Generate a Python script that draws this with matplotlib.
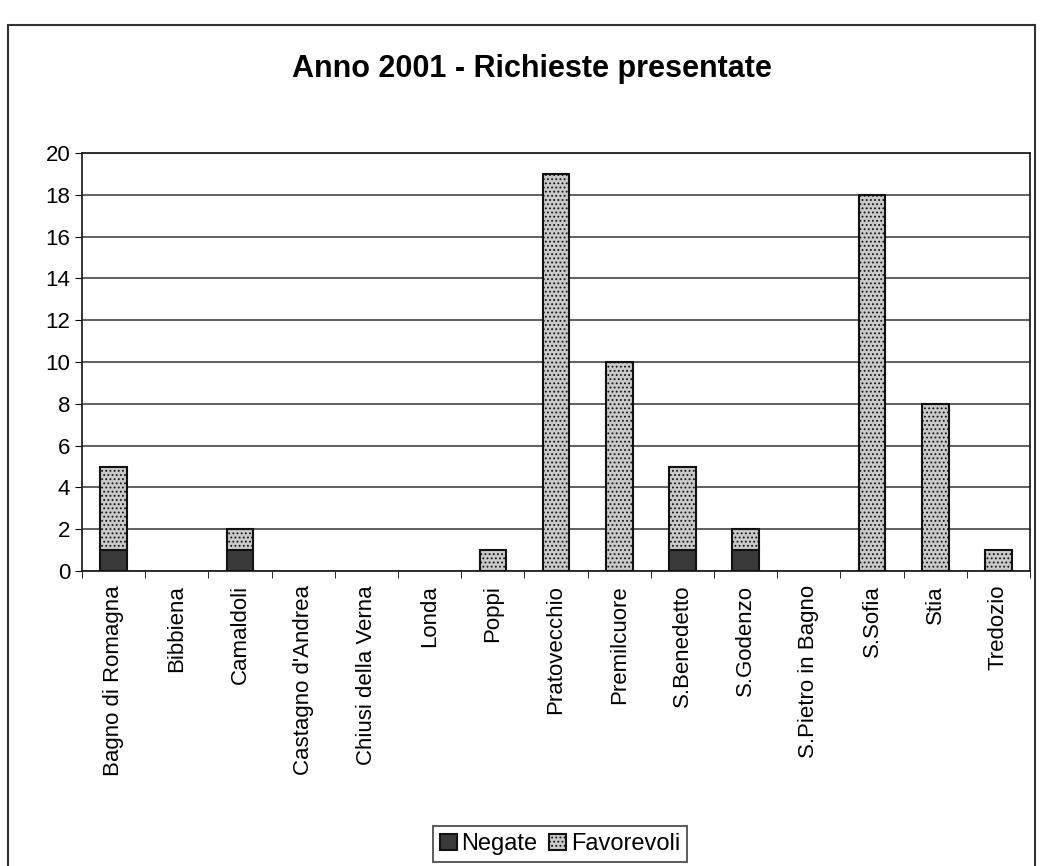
import numpy as np
import matplotlib
matplotlib.use('Agg')
from matplotlib import pyplot as plt
from matplotlib.patches import Rectangle

comuni = ['Bagno di Romagna', 'Bibbiena', 'Camaldoli', "Castagno d'Andrea",
          'Chiusi della Verna', 'Londa', 'Poppi', 'Pratovecchio', 'Premilcuore',
          'S.Benedetto', 'S.Godenzo', 'S.Pietro in Bagno', 'S.Sofia', 'Stia', 'Tredozio']
negate = [1, 0, 1, 0, 0, 0, 0, 0, 0, 1, 1, 0, 0, 0, 0]
favorevoli = [4, 0, 1, 0, 0, 0, 1, 19, 10, 4, 1, 0, 18, 8, 1]
y_ticks = [0, 2, 4, 6, 8, 10, 12, 14, 16, 18, 20]

plt.rcParams['font.family'] = ['Liberation Sans', 'DejaVu Sans']
plt.rcParams['hatch.color'] = '#777777'
plt.rcParams['hatch.linewidth'] = 0.8

fig = plt.figure(figsize=(10.43, 8.66), dpi=100)
fig.patches.append(Rectangle((0.008, -0.02), 0.984, 0.991, transform=fig.transFigure,
                             fill=False, edgecolor='#333333', linewidth=1.5))

ax = fig.add_axes([0.0786, 0.3406, 0.909, 0.4827])
x = np.arange(len(comuni))
# no outline for empty segments
lw_neg = [1.5 if v > 0 else 0 for v in negate]
lw_fav = [1.5 if v > 0 else 0 for v in favorevoli]
ax.bar(x, negate, width=0.42, color='#3a3a3a', edgecolor='#111111', linewidth=lw_neg,
       label='Negate', zorder=3)
ax.bar(x, favorevoli, width=0.42, bottom=negate, color='#c9c9c9', edgecolor='#111111',
       linewidth=lw_fav, hatch='....', label='Favorevoli', zorder=3)

ax.set_xlim(-0.5, len(comuni) - 0.5)
ax.set_ylim(0, 20)
ax.set_yticks(y_ticks)
ax.yaxis.grid(True, color='#444444', linewidth=1.2, zorder=0)
ax.set_xticks(x)
ax.set_xticklabels(comuni, rotation=90, fontsize=16)
ax.set_xticks(np.arange(len(comuni) + 1) - 0.5, minor=True)
ax.tick_params(axis='x', which='major', length=0, pad=10)
ax.tick_params(axis='x', which='minor', length=5, direction='out')
ax.tick_params(axis='y', labelsize=16, length=5, direction='out')
for s in ax.spines.values():
    s.set_linewidth(1.3)
    s.set_color('#222222')

fig.text(0.51, 0.92, 'Anno 2001 - Richieste presentate', ha='center', va='center',
         fontsize=22, fontweight='bold')

leg = fig.legend(loc='center', bbox_to_anchor=(0.537, 0.025), ncol=2, fontsize=17,
                 frameon=True, fancybox=False, edgecolor='#222222', handlelength=0.7,
                 handleheight=0.7, handletextpad=0.2, columnspacing=0.5, borderpad=0.3)
leg.get_frame().set_linewidth(1.3)

plt.savefig('out.png', dpi=100)
